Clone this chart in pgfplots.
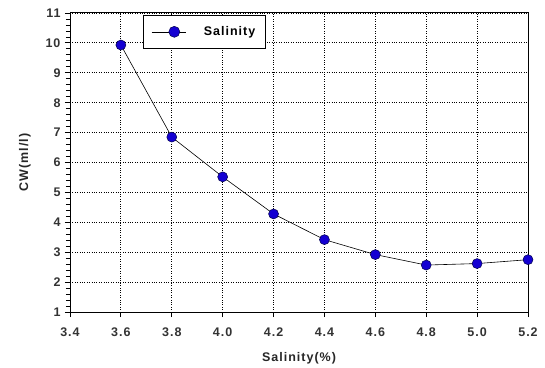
\documentclass[border=0pt]{standalone}
\usepackage{fontspec}
\setmainfont{Liberation Sans}
\usepackage{pgfplots}
\pgfplotsset{compat=1.18}
\definecolor{mkblue}{RGB}{20,0,210}
\newcommand{\lblfont}{\fontsize{12.5}{14}\selectfont\bfseries\addfontfeature{LetterSpace=8}}
\begin{document}
\begin{tikzpicture}
\path[use as bounding box] (-70pt,-55pt) rectangle (475pt,312pt);
\begin{axis}[
  at={(0pt,0pt)}, anchor=south west,
  scale only axis, width=458pt, height=299pt,
  xmin=3.4, xmax=5.2, ymin=1, ymax=11,
  xtick={3.4,3.6,...,5.2},
  ytick={1,2,...,11},
  minor y tick num=4,
  xticklabel={\pgfmathprintnumber[fixed,fixed zerofill,precision=1]{\tick}},
  yticklabel={\pgfmathprintnumber{\tick}},
  /pgf/number format/assume math mode=true,
  tick label style={font=\lblfont, text=black!80},
  xticklabel style={yshift=-7pt},
  yticklabel style={xshift=-1pt},
  label style={font=\lblfont, text=black!85},
  xlabel={Salinity(\%)},
  ylabel={CW(ml/l)},
  xlabel style={yshift=-9pt},
  ylabel style={yshift=8pt},
  grid=major,
  major grid style={black, dotted, line width=0.9pt},
  axis line style={black, line width=1pt},
  tick style={black, line width=0.8pt},
  major tick length=5pt, minor tick length=4pt,
  tick align=outside,
  xtick pos=bottom, ytick pos=left,
  legend style={at={(rel axis cs:0.159,0.993)}, anchor=north west, draw=black, line width=0.9pt,
    font=\lblfont, inner xsep=8pt, inner ysep=9pt},
  legend cell align=left,
  legend image code/.code={
    \draw[black, line width=0.6pt] (0pt,0pt) -- (34pt,0pt);
    \path (17pt,0pt) node[circle, inner sep=0pt, minimum size=11pt, fill=mkblue, draw=black!70!blue, line width=0.5pt] {};
  },
]
\addplot[black, line width=0.6pt, mark=*, mark size=5pt,
  mark options={fill=mkblue, draw=black!70!blue, line width=0.5pt}]
  coordinates {
  (3.6,9.93) (3.8,6.85) (4.0,5.52) (4.2,4.28) (4.4,3.42)
  (4.6,2.92) (4.8,2.57) (5.0,2.62) (5.2,2.75)
  };
\addlegendentry{\hspace{16pt}Salinity}
\end{axis}
\end{tikzpicture}
\end{document}
